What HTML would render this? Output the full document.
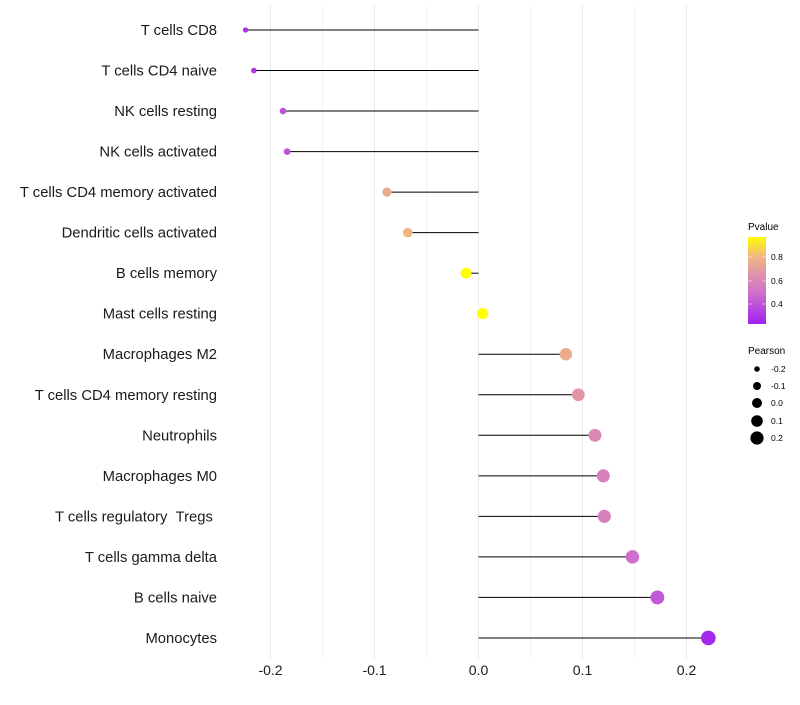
<!DOCTYPE html>
<html><head><meta charset="utf-8"><style>
body{margin:0;background:#fff;font-family:"Liberation Sans",sans-serif}
svg text{font-family:"Liberation Sans",sans-serif}
</style></head><body>
<svg id="chart" width="800" height="700">
<defs><linearGradient id="pg" x1="0" y1="1" x2="0" y2="0">
<stop offset="0" stop-color="#A020F0"/><stop offset="0.35" stop-color="#CF6FCB"/><stop offset="0.55" stop-color="#DD8EAE"/><stop offset="0.78" stop-color="#F0B87E"/><stop offset="1" stop-color="#FFFF00"/></linearGradient></defs>
<g id="grid"></g><g id="marks"></g><g id="ylab"></g><g id="xlab"></g>
<g>
<text x="748" y="230" font-size="10">Pvalue</text>
<rect x="748" y="237" width="18" height="87" fill="url(#pg)"/>
<line x1="748" y1="257" x2="752" y2="257" stroke="#fff" stroke-opacity=".5"/><line x1="762" y1="257" x2="766" y2="257" stroke="#fff" stroke-opacity=".5"/>
<line x1="748" y1="281" x2="752" y2="281" stroke="#fff" stroke-opacity=".5"/><line x1="762" y1="281" x2="766" y2="281" stroke="#fff" stroke-opacity=".5"/>
<line x1="748" y1="304" x2="752" y2="304" stroke="#fff" stroke-opacity=".5"/><line x1="762" y1="304" x2="766" y2="304" stroke="#fff" stroke-opacity=".5"/>
<text x="771" y="260" font-size="8.5">0.8</text><text x="771" y="284" font-size="8.5">0.6</text><text x="771" y="307" font-size="8.5">0.4</text>
</g>
<g>
<text x="748" y="354" font-size="10">Pearson</text>
<circle cx="757" cy="369" r="2.8"/><text x="771" y="372" font-size="8.5">-0.2</text>
<circle cx="757" cy="386" r="4"/><text x="771" y="389" font-size="8.5">-0.1</text>
<circle cx="757" cy="403" r="5"/><text x="771" y="406" font-size="8.5">0.0</text>
<circle cx="757" cy="421" r="5.8"/><text x="771" y="424" font-size="8.5">0.1</text>
<circle cx="757" cy="438" r="6.6"/><text x="771" y="441" font-size="8.5">0.2</text>
</g>
</svg>
<script>
const categories=["T cells CD8","T cells CD4 naive","NK cells resting","NK cells activated","T cells CD4 memory activated","Dendritic cells activated","B cells memory","Mast cells resting","Macrophages M2","T cells CD4 memory resting","Neutrophils","Macrophages M0","T cells regulatory \u00a0Tregs\u00a0","T cells gamma delta","B cells naive","Monocytes"];
const pearson=[-0.224,-0.216,-0.188,-0.184,-0.088,-0.068,-0.012,0.004,0.084,0.096,0.112,0.12,0.121,0.148,0.172,0.221];
const pvalue=[0.28,0.3,0.4,0.4,0.75,0.8,0.98,1.0,0.75,0.68,0.62,0.58,0.58,0.5,0.42,0.26];
const xticks=[-0.2,-0.1,0.0,0.1,0.2];
const NS="http://www.w3.org/2000/svg";
const X=v=>478.5+v*1040;
const Y=i=>30+i*40.53;
const R=v=>Math.sqrt(Math.max(2,30.4+103.7*v));
function lerp(a,b,t){return a.map((x,i)=>Math.round(x+(b[i]-x)*t));}
const stops=[[0.23,[160,32,240]],[0.5,[207,111,203]],[0.65,[221,142,174]],[0.8,[240,184,126]],[0.97,[255,255,0]]];
function col(p){if(p<=stops[0][0])return`rgb(${stops[0][1]})`;for(let i=1;i<stops.length;i++){if(p<=stops[i][0]){const t=(p-stops[i-1][0])/(stops[i][0]-stops[i-1][0]);return`rgb(${lerp(stops[i-1][1],stops[i][1],t)})`;}}return`rgb(${stops[stops.length-1][1]})`;}
function mk(t,a,p){const e=document.createElementNS(NS,t);for(const k in a)e.setAttribute(k,a[k]);p.appendChild(e);return e;}
const grid=document.getElementById('grid'),marks=document.getElementById('marks'),yl=document.getElementById('ylab'),xl=document.getElementById('xlab');
for(let v=-0.2;v<=0.2001;v+=0.05){const g=mk('line',{x1:X(v),x2:X(v),y1:5,y2:660,stroke:'#ebebeb','stroke-width':Math.abs(Math.round(v*20))%2?0.6:1},grid);

}
xticks.forEach(v=>{const t=mk('text',{x:X(v),y:675,'text-anchor':'middle','font-size':14,fill:'#1a1a1a'},xl);t.textContent=v.toFixed(1);

});
categories.forEach((c,i)=>{
const t=mk('text',{x:217,y:Y(i)+5,'text-anchor':'end','font-size':14.8,fill:'#1a1a1a'},yl);t.textContent=c;


const l=mk('line',{x1:X(0),x2:X(pearson[i]),y1:Y(i),y2:Y(i),stroke:'#000','stroke-width':1},marks);


const d=mk('circle',{cx:X(pearson[i]),cy:Y(i),r:R(pearson[i]),fill:col(pvalue[i])},marks);


});
</script>
</body></html>
